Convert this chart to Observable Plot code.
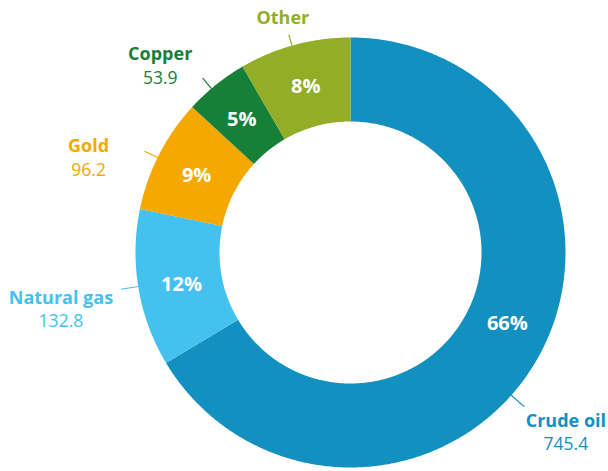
<!DOCTYPE html>
<html>
<head>
<meta charset="utf-8">
<script src="https://cdn.jsdelivr.net/npm/d3@7"></script>
<script src="https://cdn.jsdelivr.net/npm/@observablehq/plot@0.6"></script>
<style>
  html, body { margin: 0; padding: 0; background: #ffffff; }
  #chart svg { display: block; }
</style>
</head>
<body>
<div id="chart"></div>
<script>
// ---- data ----
const categories = ["Crude oil", "Natural gas", "Gold", "Copper", "Other"];
const values = [745.4, 132.8, 96.2, 53.9, 94.0];
const valueLabels = ["745.4", "132.8", "96.2", "53.9", ""];
const colors = ["#1290bf", "#44c1ee", "#f5a800", "#167f38", "#93ad27"];

// ---- layout (styling / label placement) ----
const W = 608, H = 471;
const CX = 350, CY = 252;
const R_OUT = 215, R_IN = 131, R_LABEL = 172;
const pctAngleShift = [-5.3, -1.2, -0.6, -0.4, 0];      // degrees
const leaderAngle = [131.6, 260.9, 296.2, 319.7, 344.2]; // degrees, clockwise from top
const leaderLen = [17.5, 17.5, 14.5, 13.5, 11.5];
const nameOffset = [[41.5, 20], [-60, 14.5], [-56, 1], [-42.5, -18], [-6, -10.5]];
const valueGap = 23.5;

const total = d3.sum(values);
const arcs = d3.pie().sort(null).value(d => d).startAngle(0).endAngle(2 * Math.PI)(values);

const px = (r, a) => r * Math.sin(a);
const py = (r, a) => -r * Math.cos(a);
const rad = d => d * Math.PI / 180;

// slice polygons
const slices = arcs.map((a, i) => {
  const pts = [];
  const n = Math.max(8, Math.ceil((a.endAngle - a.startAngle) / 0.01));
  for (let k = 0; k <= n; k++) {
    const t = a.startAngle + (a.endAngle - a.startAngle) * k / n;
    pts.push({x: px(R_OUT, t), y: py(R_OUT, t)});
  }
  for (let k = n; k >= 0; k--) {
    const t = a.startAngle + (a.endAngle - a.startAngle) * k / n;
    pts.push({x: px(R_IN, t), y: py(R_IN, t)});
  }
  return pts;
});

const pctLabels = arcs.map((a, i) => {
  const t = (a.startAngle + a.endAngle) / 2 + rad(pctAngleShift[i]);
  return {x: px(R_LABEL, t), y: py(R_LABEL, t), text: Math.round(values[i] / total * 100) + "%"};
});

const leaders = categories.map((c, i) => {
  const t = rad(leaderAngle[i]);
  return {
    x1: px(R_OUT, t), y1: py(R_OUT, t),
    x2: px(R_OUT + leaderLen[i], t), y2: py(R_OUT + leaderLen[i], t),
    color: colors[i]
  };
});

const names = categories.map((c, i) => ({
  x: leaders[i].x2 + nameOffset[i][0],
  y: leaders[i].y2 + nameOffset[i][1],
  name: c,
  value: valueLabels[i],
  color: colors[i]
}));

const FONT = "'Open Sans', Lato, sans-serif";

const marks = [
  ...slices.map((pts, i) => Plot.line(pts, {x: "x", y: "y", fill: colors[i], stroke: "none", curve: "linear-closed"})),
  Plot.link(leaders, {x1: "x1", y1: "y1", x2: "x2", y2: "y2", stroke: "color", strokeWidth: 1.2}),
  Plot.text(pctLabels, {x: "x", y: "y", text: "text", fill: "white", fontSize: 20, fontWeight: "bold", fontFamily: FONT, textAnchor: "middle", lineAnchor: "middle"}),
  Plot.text(names, {x: "x", y: "y", text: "name", fill: "color", fontSize: 18, fontWeight: "bold", fontFamily: FONT, textAnchor: "middle", lineAnchor: "bottom"}),
  Plot.text(names, {x: "x", y: d => d.y + valueGap, text: "value", fill: "color", fontSize: 17.5, fontWeight: "normal", fontFamily: FONT, textAnchor: "middle", lineAnchor: "bottom"})
];

const chart = Plot.plot({
  width: W,
  height: H,
  margin: 0,
  x: {domain: [-CX, W - CX], range: [0, W], axis: null},
  y: {domain: [-CY, H - CY], range: [0, H], axis: null},
  color: {type: "identity"},
  style: {background: "#ffffff", fontFamily: FONT},
  marks
});
document.getElementById("chart").appendChild(chart);
</script>
</body>
</html>
